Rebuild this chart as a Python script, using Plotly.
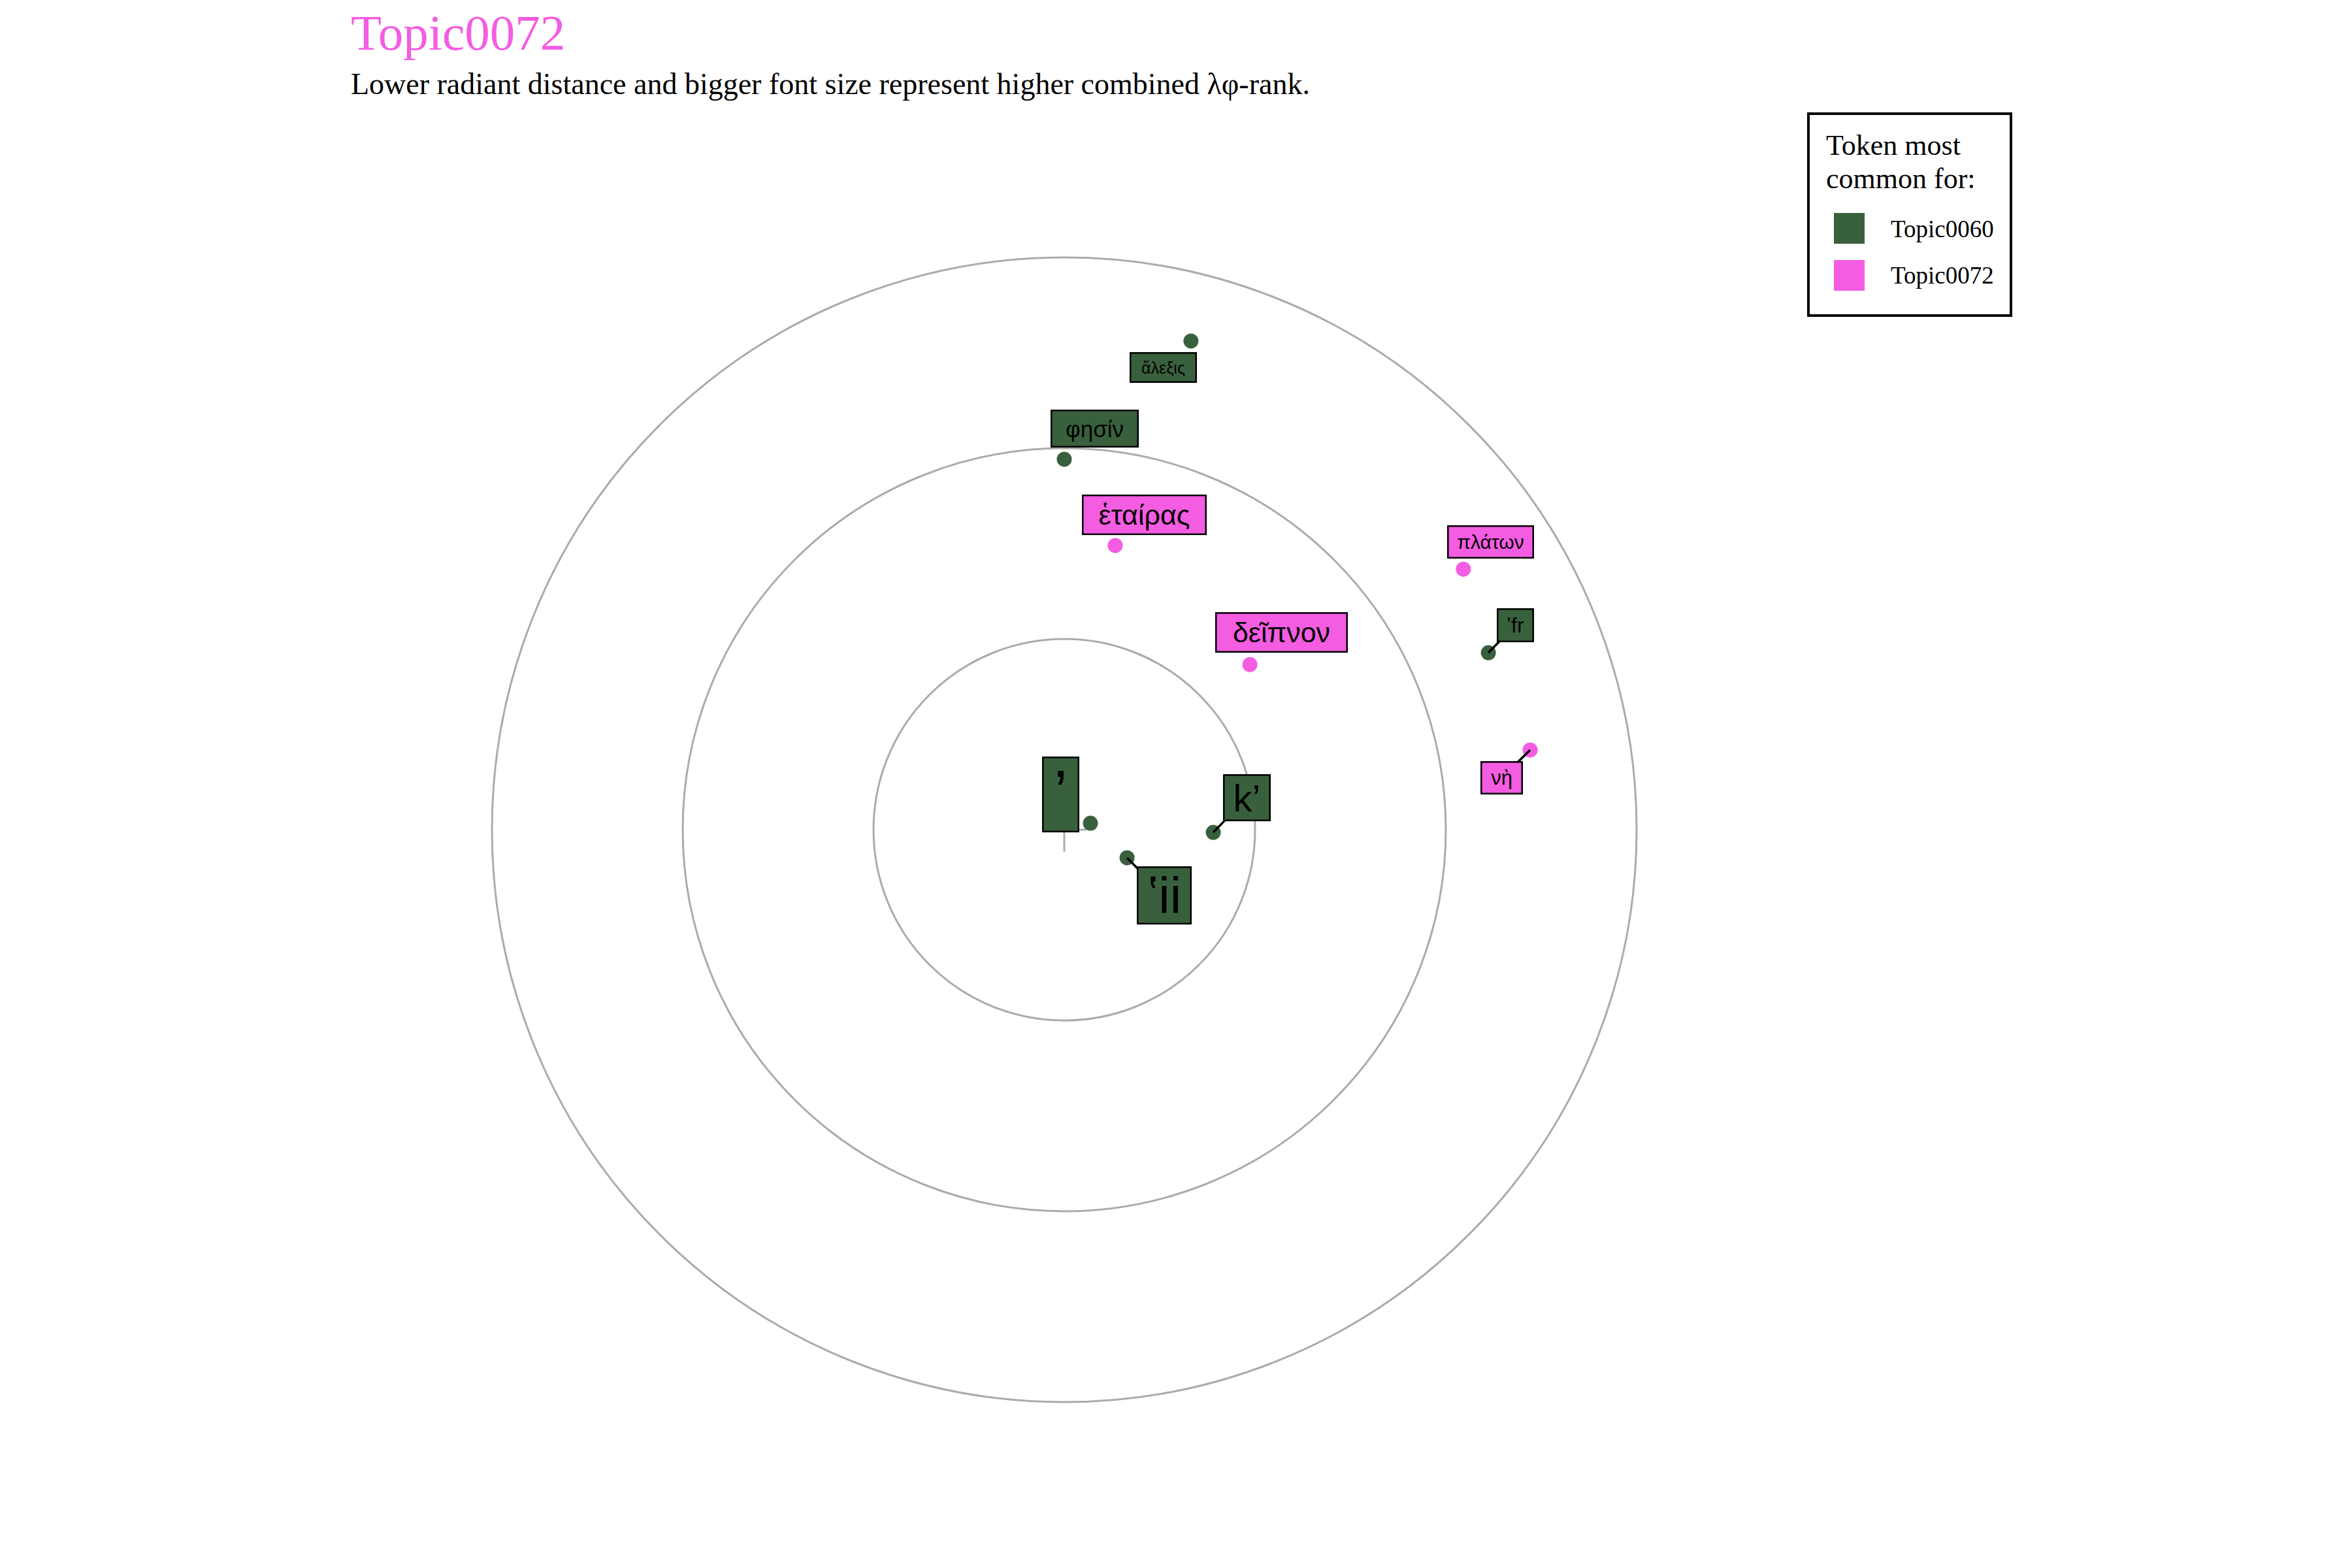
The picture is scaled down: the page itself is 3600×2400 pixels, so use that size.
import plotly.graph_objects as go

# ---------------- data ----------------
tokens = ["ἄλεξις", "φησίν", "ἑταίρας", "δεῖπνον", "πλάτων", "ʽfr", "νὴ", "’", "k’", "ʽii"]
topics = ["Topic0060", "Topic0060", "Topic0072", "Topic0072", "Topic0072",
          "Topic0060", "Topic0072", "Topic0060", "Topic0060", "Topic0060"]
x_pos = [0.664, 0.000, 0.267, 0.973, 2.092, 2.223, 2.442, 0.137, 0.781, 0.329]
y_pos = [2.562, 1.942, 1.490, 0.866, 1.366, 0.928, 0.418, 0.034, -0.014, -0.147]
ring_radii = [1, 2, 3]
legend_topics = ["Topic0060", "Topic0072"]

# ---------------- styles / layout ----------------
W, H = 3600, 2400
CX, CY, S = 1629, 1270, 292   # centre (px) and px per unit
COLORS = {"Topic0060": "#39603D", "Topic0072": "#F45CE2"}
GRID = "#ABABAB"

# label layout: (dx px, dy px, box w, box h, font size, draw segment)
label_style = [
    (-42, 41, 103, 47, 25, False),
    (46, -47, 135, 58, 35, False),
    (45, -47, 191, 62, 43, False),
    (48, -49, 203, 62, 43, False),
    (42, -42, 133, 51, 30, False),
    (41, -42, 57, 52, 32, True),
    (-44, 43, 65, 51, 31, True),
    (-46, -44, 57, 116, 92, False),
    (51, -53, 73, 72, 58, True),
    (57, 58, 84, 89, 78, True),
]

fig = go.Figure()

# centre cross
fig.add_trace(go.Scatter(x=[0], y=[0], mode="markers", showlegend=False, hoverinfo="skip",
                         marker=dict(symbol="cross-thin", size=48,
                                     line=dict(color=GRID, width=3))))

for t in legend_topics:
    xs = [x for x, tp in zip(x_pos, topics) if tp == t]
    ys = [y for y, tp in zip(y_pos, topics) if tp == t]
    fig.add_trace(go.Scatter(x=xs, y=ys, mode="markers", showlegend=False, name=t,
                             marker=dict(size=23, color=COLORS[t])))

shapes = []
for r in ring_radii:
    shapes.append(dict(type="circle", xref="x", yref="y", x0=-r, x1=r, y0=-r, y1=r,
                       line=dict(color=GRID, width=3), layer="below"))

annotations = []
for tok, tp, x, y, st in zip(tokens, topics, x_pos, y_pos, label_style):
    dx, dy, bw, bh, fs, seg = st
    annotations.append(dict(
        x=x, y=y, xref="x", yref="y", text=tok, showarrow=True,
        ax=dx, ay=dy, arrowhead=0, arrowwidth=3.5,
        arrowcolor="black" if seg else "rgba(0,0,0,0)",
        bgcolor=COLORS[tp], bordercolor="black", borderwidth=2.5, borderpad=0,
        width=bw - 5, height=bh - 5,
        valign="top" if tok == "’" else "middle",
        font=dict(family="Liberation Sans, Arial, sans-serif", size=fs, color="black")))

# title / subtitle
annotations.append(dict(x=535 / W, y=1 - 50 / H, xref="paper", yref="paper", xanchor="left",
                        yanchor="middle", showarrow=False, text="Topic0072",
                        font=dict(family="Liberation Serif, Times New Roman, serif", size=77,
                                  color=COLORS["Topic0072"])))
annotations.append(dict(x=535 / W, y=1 - 129 / H, xref="paper", yref="paper", xanchor="left",
                        yanchor="middle", showarrow=False,
                        text="Lower radiant distance and bigger font size represent higher combined λφ-rank.",
                        font=dict(family="Liberation Serif, Times New Roman, serif", size=46,
                                  color="black")))

# manual legend
def px_x(v):
    return v / W

def px_y(v):
    return 1 - v / H

shapes.append(dict(type="rect", xref="paper", yref="paper",
                   x0=px_x(2768), x1=px_x(3078), y0=px_y(483), y1=px_y(174),
                   line=dict(color="black", width=4), fillcolor="rgba(0,0,0,0)"))
for i, line in enumerate(["Token most", "common for:"]):
    annotations.append(dict(x=px_x(2793), y=px_y(223 + 51 * i), xref="paper", yref="paper",
                            xanchor="left", yanchor="middle", showarrow=False, text=line,
                            font=dict(family="Liberation Serif, Times New Roman, serif",
                                      size=44, color="black")))
for i, t in enumerate(legend_topics):
    top = 326 + 72 * i
    shapes.append(dict(type="rect", xref="paper", yref="paper",
                       x0=px_x(2807), x1=px_x(2854), y0=px_y(top + 47), y1=px_y(top),
                       line=dict(width=0), fillcolor=COLORS[t]))
    annotations.append(dict(x=px_x(2892), y=px_y(top + 24), xref="paper", yref="paper",
                            xanchor="left", yanchor="middle", showarrow=False, text=t,
                            font=dict(family="Liberation Serif, Times New Roman, serif",
                                      size=37, color="black")))

fig.update_layout(
    width=W, height=H, margin=dict(l=0, r=0, t=0, b=0),
    paper_bgcolor="white", plot_bgcolor="white",
    xaxis=dict(range=[-CX / S, (W - CX) / S], visible=False, fixedrange=True),
    yaxis=dict(range=[-(H - CY) / S, CY / S], visible=False, fixedrange=True),
    shapes=shapes, annotations=annotations, showlegend=False,
)

fig.write_html("out.html")
